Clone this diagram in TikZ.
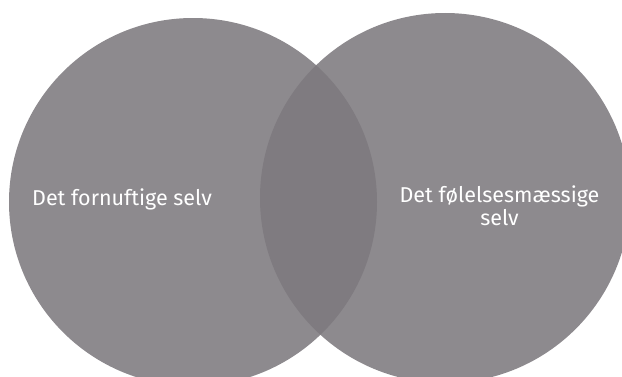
\documentclass[tikz,border=0pt]{standalone}
\usepackage{fontspec}
\setmainfont{Fira Sans}
\definecolor{circgrey}{RGB}{141,138,142}
\definecolor{lensgrey}{RGB}{127,123,128}
\tikzset{
  labeltext/.style={text=white, font=\fontsize{21.5}{23}\selectfont, inner sep=0pt, align=center},
}
\begin{document}
\begin{tikzpicture}[x=1pt,y=1pt]
\useasboundingbox (0,0) rectangle (622,376);
\clip (0,0) rectangle (622,376);
\coordinate (cl) at (193,174);
\coordinate (cr) at (445,178);
\fill[circgrey] (cl) circle[radius=184];
\fill[circgrey] (cr) circle[radius=185];
\begin{scope}
  \clip (cl) circle[radius=184];
  \fill[lensgrey] (cr) circle[radius=185];
\end{scope}
\node[labeltext, anchor=base] (lt) at (122,171) {Det fornuftige selv};
\node[labeltext] (rt) at (499.5,170) {Det følelsesmæssige\\selv};
\end{tikzpicture}
\end{document}
